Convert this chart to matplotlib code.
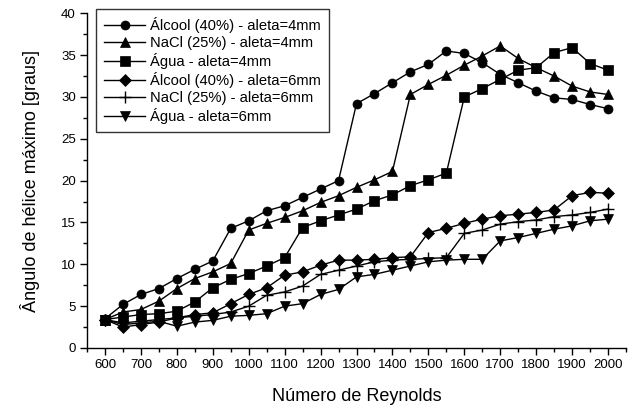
import matplotlib
matplotlib.use("Agg")
import matplotlib.pyplot as plt
from matplotlib.ticker import MultipleLocator

plt.rcParams['font.family'] = ['Liberation Sans', 'DejaVu Sans']

reynolds = list(range(600, 2001, 50))

alcool_4 = [3.5, 5.2, 6.4, 7.1, 8.3, 9.4, 10.4, 14.3, 15.2, 16.4, 17.0, 18.0, 19.0, 20.0,
            29.2, 30.4, 31.7, 33.0, 33.9, 35.5, 35.2, 34.1, 32.7, 31.7, 30.7, 29.9, 29.7, 29.1, 28.6]
nacl_4 = [3.4, 4.3, 4.6, 5.6, 7.1, 8.3, 9.1, 10.1, 14.1, 14.9, 15.6, 16.4, 17.4, 18.2,
          19.2, 20.1, 21.1, 30.3, 31.5, 32.6, 33.8, 34.9, 36.1, 34.6, 33.5, 32.5, 31.3, 30.6, 30.3]
agua_4 = [3.4, 3.7, 4.0, 4.1, 4.4, 5.5, 7.2, 8.2, 8.9, 9.8, 10.8, 14.4, 15.2, 15.9,
          16.6, 17.6, 18.3, 19.4, 20.1, 20.9, 30.0, 31.0, 32.1, 33.2, 33.5, 35.3, 35.9, 34.0, 33.2]
alcool_6 = [3.4, 2.5, 2.8, 3.1, 3.6, 4.0, 4.2, 5.3, 6.4, 7.2, 8.7, 9.1, 9.9, 10.5,
            10.5, 10.6, 10.8, 10.9, 13.8, 14.3, 14.9, 15.4, 15.8, 16.0, 16.2, 16.5, 18.2, 18.6, 18.5]
nacl_6 = [3.4, 3.0, 3.2, 3.4, 3.6, 3.8, 4.0, 4.3, 5.0, 6.3, 6.7, 7.4, 8.8, 9.3,
          9.8, 10.3, 10.5, 10.6, 10.7, 10.8, 13.7, 14.1, 14.8, 15.1, 15.3, 15.7, 15.9, 16.2, 16.6]
agua_6 = [3.4, 2.8, 3.0, 3.2, 2.6, 3.1, 3.3, 3.8, 3.9, 4.1, 5.0, 5.3, 6.4, 7.0,
          8.5, 8.8, 9.3, 9.8, 10.3, 10.5, 10.6, 10.6, 12.8, 13.2, 13.7, 14.2, 14.6, 15.2, 15.4]

series = [
    (alcool_4, 'o', "Álcool (40%) - aleta=4mm", 6.5),
    (nacl_4, '^', "NaCl (25%) - aleta=4mm", 7),
    (agua_4, 's', "Água - aleta=4mm", 6.5),
    (alcool_6, 'D', "Álcool (40%) - aleta=6mm", 6),
    (nacl_6, '+', "NaCl (25%) - aleta=6mm", 8),
    (agua_6, 'v', "Água - aleta=6mm", 7),
]

fig = plt.figure(figsize=(6.29, 4.07), dpi=100)
ax = fig.add_axes([87/629, 1 - 348/407, (626 - 87)/629, (348 - 13.3)/407])

for vals, mk, lab, ms in series:
    ax.plot(reynolds, vals, color='black', lw=1.0, marker=mk, ms=ms,
            markerfacecolor='black', markeredgecolor='black',
            markeredgewidth=1.0 if mk == '+' else 0.5, label=lab)

ax.set_xlim(550, 2050)
ax.set_ylim(0, 40)
ax.xaxis.set_major_locator(MultipleLocator(100))
ax.xaxis.set_minor_locator(MultipleLocator(50))
ax.yaxis.set_major_locator(MultipleLocator(5))
ax.yaxis.set_minor_locator(MultipleLocator(2.5))
ax.set_xticks(range(600, 2001, 100))
for s in ['top', 'right']:
    ax.spines[s].set_visible(False)
for s in ['left', 'bottom']:
    ax.spines[s].set_linewidth(1.0)
ax.tick_params(which='major', direction='out', length=5, width=1, labelsize=9.5, pad=3)
ax.tick_params(which='minor', direction='out', length=3, width=1)

ax.set_xlabel("Número de Reynolds", fontsize=13, labelpad=12)
ax.set_ylabel("Ângulo de hélice máximo [graus]", fontsize=13, labelpad=15)

leg = fig.legend(loc='upper left', bbox_to_anchor=(96/629, 1 - 9/407), fontsize=10.6,
                 frameon=True, fancybox=False, edgecolor='black', handlelength=2.8,
                 handletextpad=0.3, labelspacing=0.2, borderpad=0.55, borderaxespad=0)
leg.get_frame().set_linewidth(1.0)

fig.savefig("out.png", dpi=100)
